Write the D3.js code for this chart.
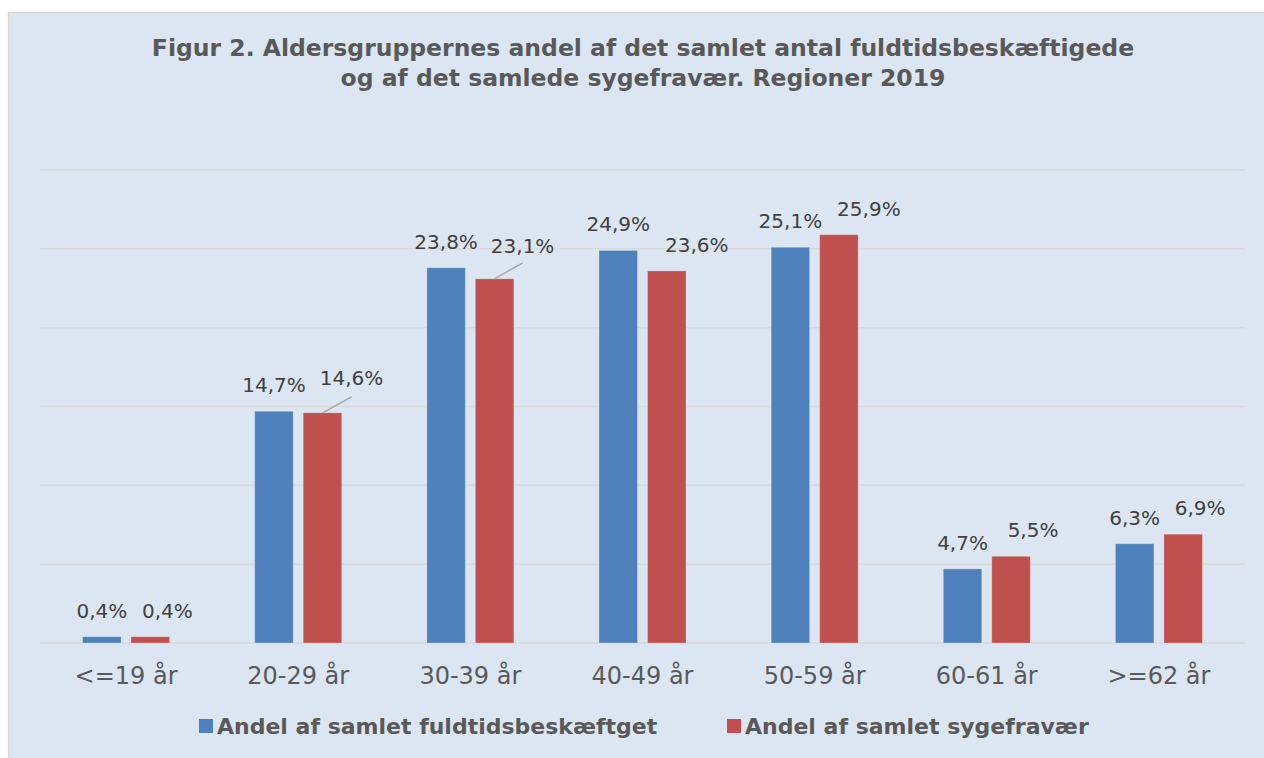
<!DOCTYPE html>
<html>
<head>
<meta charset="utf-8">
<script src="https://cdn.jsdelivr.net/npm/d3@7/dist/d3.min.js"></script>
<style>
html,body{margin:0;padding:0;background:#fff;}
svg{display:block;font-family:"DejaVu Sans",Verdana,sans-serif;}
</style>
</head>
<body>
<script>
const categories = ["<=19 år","20-29 år","30-39 år","40-49 år","50-59 år","60-61 år",">=62 år"];
const seriesNames = ["Andel af samlet fuldtidsbeskæftget","Andel af samlet sygefravær"];
const employed = [0.4,14.7,23.8,24.9,25.1,4.7,6.3];
const absence = [0.4,14.6,23.1,23.6,25.9,5.5,6.9];
const yTicks = [0,5,10,15,20,25,30];
const titleLines = ["Figur 2. Aldersgruppernes andel af det samlet antal fuldtidsbeskæftigede","og af det samlede sygefravær. Regioner 2019"];
const colors = ["#4f81bd","#c0504d"];

const W = 1264, H = 758;
const svg = d3.select("body").append("svg").attr("width",W).attr("height",H);

// chart area background
svg.append("rect").attr("x",8.5).attr("y",12.5).attr("width",W).attr("height",H)
  .attr("fill","#dce6f2").attr("stroke","#d9d9d9").attr("stroke-width",1.5);

// title
svg.append("text").attr("text-anchor","middle").attr("fill","#595959")
  .attr("font-weight","bold").attr("font-size",23.5)
  .selectAll("tspan").data(titleLines).join("tspan")
  .attr("x",643).attr("y",(d,i)=>56+i*30).text(d=>d);

const x0 = d3.scaleBand().domain(categories).range([40,1245]);
const groupW = 87;
const x1 = d3.scaleBand().domain(seriesNames).range([0,groupW]).paddingInner(0.206);
const y = d3.scaleLinear().domain([0,30]).range([643,170]);

// gridlines
svg.append("g").selectAll("line").data(yTicks).join("line")
  .attr("x1",40).attr("x2",1245)
  .attr("y1",d=>y(d)).attr("y2",d=>y(d))
  .attr("stroke","#d9d9d9").attr("stroke-width",1.5);

const data = categories.map((c,i)=>({cat:c, vals:[employed[i],absence[i]]}));
const groupOff = (x0.bandwidth()-groupW)/2;

const g = svg.append("g").selectAll("g").data(data).join("g")
  .attr("transform",d=>`translate(${x0(d.cat)+groupOff},0)`);

g.selectAll("rect").data(d=>d.vals.map((v,k)=>({v,k}))).join("rect")
  .attr("x",d=>x1(seriesNames[d.k]))
  .attr("width",x1.bandwidth())
  .attr("y",d=>y(d.v))
  .attr("height",d=>y(0)-y(d.v))
  .attr("fill",d=>colors[d.k])
  .attr("stroke","rgba(255,255,255,0.25)").attr("stroke-width",1);

// label nudges (manually placed labels in the original; some have leader lines)
const nudge = [
  [[0,0],[17,0]],
  [[0,0],[29,-9]],
  [[0,0],[28,-7]],
  [[0,0],[30,0]],
  [[0,0],[30,0]],
  [[0,0],[22,0]],
  [[0,0],[17,0]]
];
const fmt = v => d3.format(".1f")(v).replace(".",",")+"%";

data.forEach((d,i)=>{
  d.vals.forEach((v,k)=>{
    const bx = x0(d.cat)+groupOff+x1(seriesNames[k])+x1.bandwidth()/2;
    const by = y(v);
    const [dx,dy] = nudge[i][k];
    const lx = bx+dx, ly = by-19+dy;
    if (dy !== 0) {
      svg.append("line").attr("x1",bx).attr("y1",by).attr("x2",lx).attr("y2",by-16)
        .attr("stroke","#a6a6a6").attr("stroke-width",1.5);
    }
    svg.append("text").attr("x",lx).attr("y",ly).attr("text-anchor","middle")
      .attr("font-size",20).attr("fill","#404040").text(fmt(v));
  });
});

// x axis labels
svg.append("g").selectAll("text").data(categories).join("text")
  .attr("x",d=>x0(d)+x0.bandwidth()/2).attr("y",684)
  .attr("text-anchor","middle").attr("font-size",24).attr("fill","#595959")
  .text(d=>d);

// legend
const legX = [199,727];
const leg = svg.append("g").selectAll("g").data(seriesNames).join("g")
  .attr("transform",(d,i)=>`translate(${legX[i]},0)`);
leg.append("rect").attr("x",0).attr("y",719).attr("width",14).attr("height",14)
  .attr("fill",(d,i)=>colors[i]);
leg.append("text").attr("x",18).attr("y",734).attr("font-size",22).attr("font-weight","bold")
  .attr("fill","#595959").text(d=>d);
</script>
</body>
</html>
